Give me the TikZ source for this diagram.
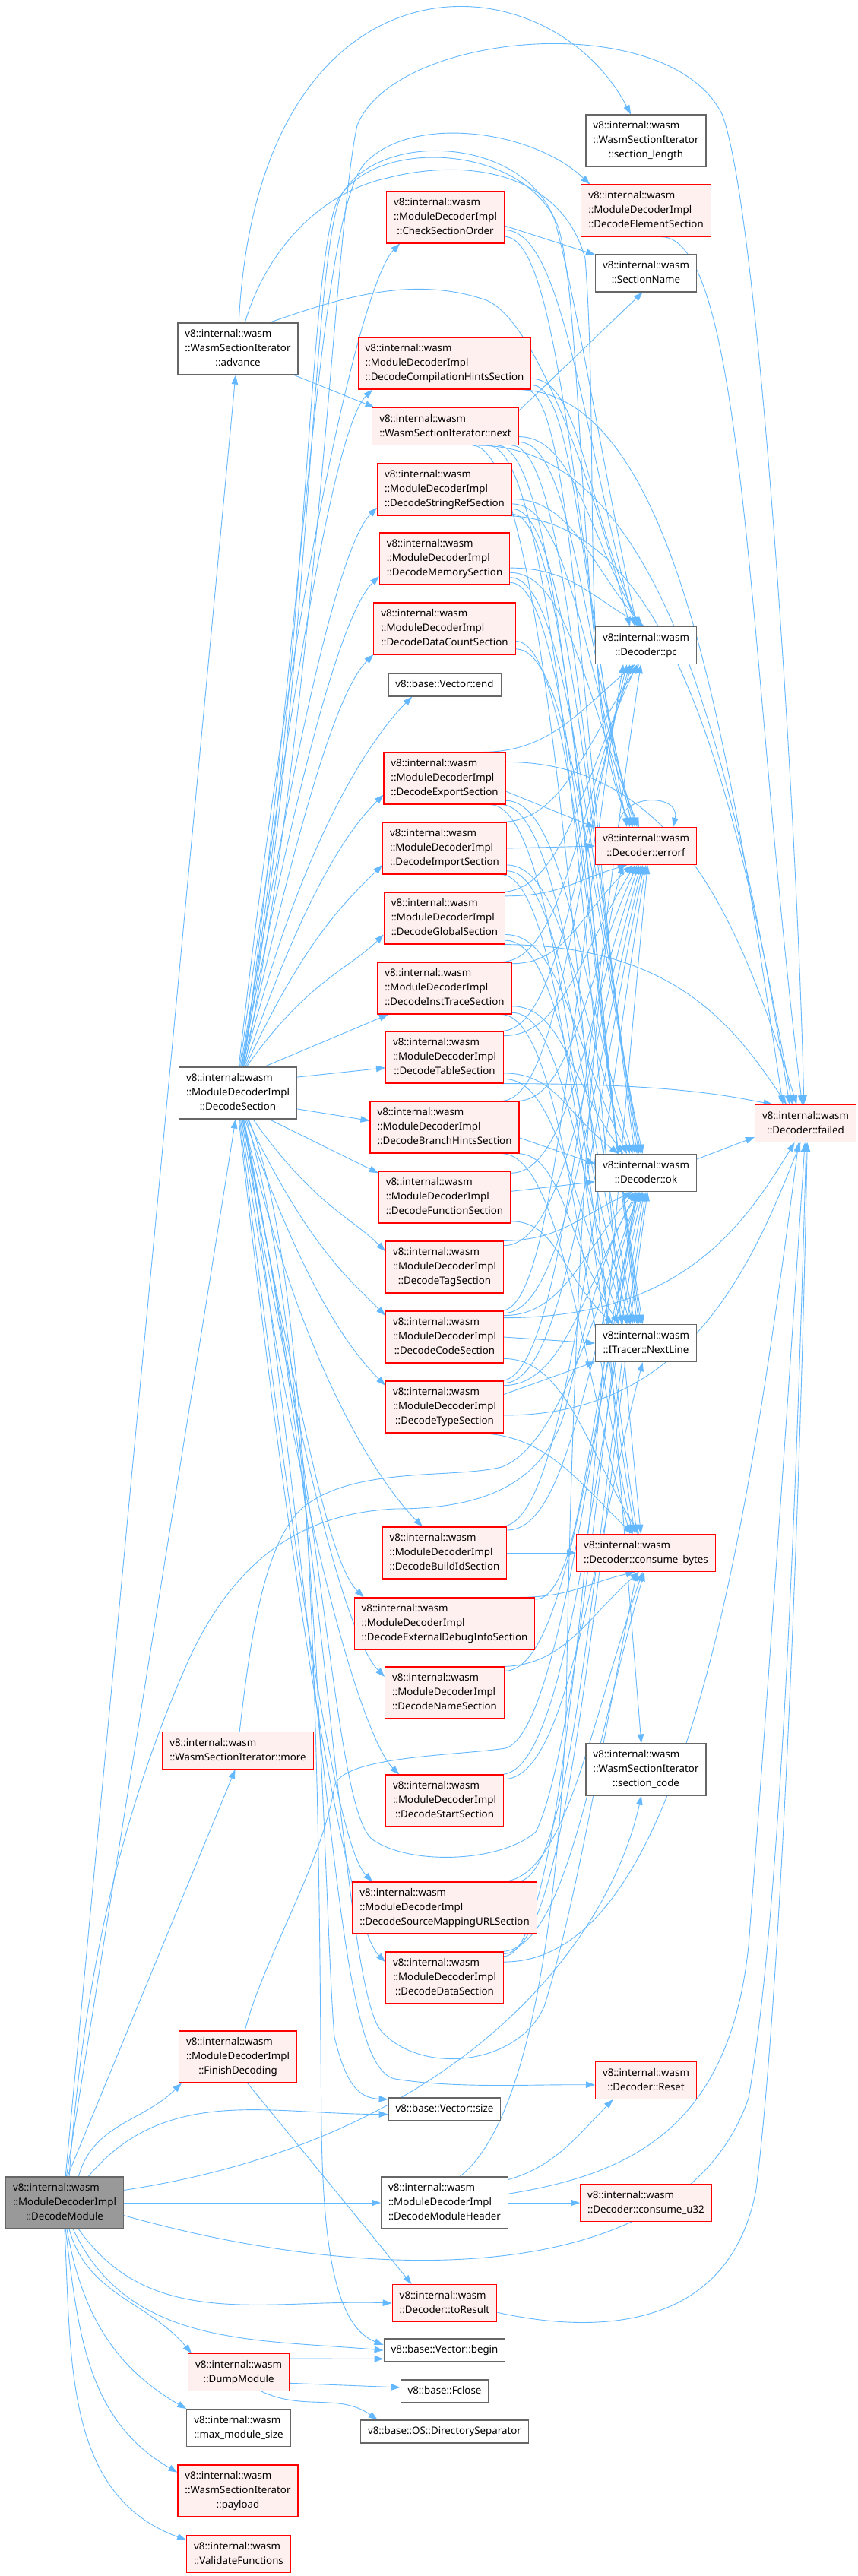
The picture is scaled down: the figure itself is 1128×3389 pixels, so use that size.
\documentclass[tikz,border=0pt]{standalone}
\usepackage{fontspec}
\setmainfont{Noto Sans}
\usetikzlibrary{arrows.meta,calc,backgrounds}
\definecolor{callblue}{HTML}{63B8FF}
\definecolor{boxline}{HTML}{666666}
\definecolor{boxred}{HTML}{FF0000}
\definecolor{boxpink}{HTML}{FFF0F0}
\definecolor{boxgray}{HTML}{999999}
\newcommand{\fnfont}{\fontsize{13.3}{19}\selectfont}
\newcommand{\fnt}[2]{\begin{tabular}{@{}l@{}}#1\\\multicolumn{1}{@{}c@{}}{#2}\end{tabular}}
\newcommand{\fno}[1]{\begin{tabular}{@{}l@{}}#1\end{tabular}}
\newcommand{\mdi}[1]{\fnt{v8::internal::wasm\\::ModuleDecoderImpl}{#1}}
\tikzset{
  fn/.style={rectangle,draw=boxline,fill=white,line width=1.1pt,
    inner xsep=9.5pt,inner ysep=5.5pt,font=\fnfont},
  fnred/.style={fn,draw=boxred,fill=boxpink},
  fnroot/.style={fn,fill=boxgray},
  call/.style={-{Triangle[length=12pt,width=8.5pt]},draw=callblue,line width=0.9pt},
  reach/.style={to path={.. controls ($(\tikztostart)!#1!(\tikztostart -| \tikztotarget)$)
      and ($(\tikztotarget)!0.5!(\tikztotarget |- \tikztostart)+(-70,0)$) .. (\tikztotarget)}},
  reach/.default=0.45,
  rise/.style={to path={.. controls ($(\tikztostart)!0.65!(\tikztostart |- \tikztotarget)+(80,0)$)
      and +(-45,45) .. (\tikztotarget)}},
  fall/.style={to path={.. controls ($(\tikztostart)!0.65!(\tikztostart |- \tikztotarget)+(80,0)$)
      and +(-45,-45) .. (\tikztotarget)}}
}
\begin{document}
\begin{tikzpicture}[x=1pt,y=-1pt]
  \useasboundingbox (0,0) rectangle (1128,3389);
  % caller
  \node[fnroot] (dm) at (85,2898) {\mdi{::DecodeModule}};
  % first column
  \node[fn] (adv) at (313,459) {\fnt{v8::internal::wasm\\::WasmSectionIterator}{::advance}};
  \node[fn] (dsec) at (313,1438) {\mdi{::DecodeSection}};
  \node[fnred] (more) at (313,2303) {\fnt{v8::internal::wasm}{::WasmSectionIterator::more}};
  \node[fnred] (fin) at (313,2706) {\mdi{::FinishDecoding}};
  \node[fnred] (dump) at (314,3121) {\fnt{v8::internal::wasm}{::DumpModule}};
  \node[fn] (maxsz) at (314,3194) {\fnt{v8::internal::wasm}{::max\_module\_size}};
  \node[fnred] (payload) at (313,3277) {\fnt{v8::internal::wasm\\::WasmSectionIterator}{::payload}};
  \node[fnred] (valfn) at (314,3360) {\fnt{v8::internal::wasm}{::ValidateFunctions}};
  % second column
  \node[fnred] (chkord) at (586,286) {\mdi{::CheckSectionOrder}};
  \node[fnred] (hintsec) at (585,478) {\mdi{::DecodeCompilationHintsSection}};
  \node[fnred] (next) at (586,561) {\fnt{v8::internal::wasm}{::WasmSectionIterator::next}};
  \node[fnred] (strsec) at (585,644) {\mdi{::DecodeStringRefSection}};
  \node[fnred] (memsec) at (585,735) {\mdi{::DecodeMemorySection}};
  \node[fnred] (dcsec) at (585,827) {\mdi{::DecodeDataCountSection}};
  \node[fn] (vend) at (585,901) {\fno{v8::base::Vector::end}};
  \node[fnred] (exsec) at (585,1024) {\mdi{::DecodeExportSection}};
  \node[fnred] (imsec) at (585,1116) {\mdi{::DecodeImportSection}};
  \node[fnred] (glsec) at (585,1208) {\mdi{::DecodeGlobalSection}};
  \node[fnred] (instsec) at (585,1300) {\mdi{::DecodeInstTraceSection}};
  \node[fnred] (tabsec) at (585,1391) {\mdi{::DecodeTableSection}};
  \node[fnred] (brsec) at (585,1483) {\mdi{::DecodeBranchHintsSection}};
  \node[fnred] (fnsec) at (585,1575) {\mdi{::DecodeFunctionSection}};
  \node[fnred] (tagsec) at (585,1667) {\mdi{::DecodeTagSection}};
  \node[fnred] (codesec) at (585,1759) {\mdi{::DecodeCodeSection}};
  \node[fnred] (tsec) at (585,1851) {\mdi{::DecodeTypeSection}};
  \node[fnred] (bidsec) at (585,2043) {\mdi{::DecodeBuildIdSection}};
  \node[fnred] (dbgsec) at (585,2136) {\mdi{::DecodeExternalDebugInfoSection}};
  \node[fnred] (namesec) at (585,2227) {\mdi{::DecodeNameSection}};
  \node[fnred] (stsec) at (585,2369) {\mdi{::DecodeStartSection}};
  \node[fnred] (srcsec) at (585,2510) {\mdi{::DecodeSourceMappingURLSection}};
  \node[fnred] (datsec) at (585,2602) {\mdi{::DecodeDataSection}};
  \node[fn] (vsize) at (585,2775) {\fno{v8::base::Vector::size}};
  \node[fn] (dmh) at (585,2898) {\mdi{::DecodeModuleHeader}};
  \node[fnred] (tores) at (585,3030) {\fnt{v8::internal::wasm}{::Decoder::toResult}};
  \node[fn] (vbegin) at (585,3092) {\fno{v8::base::Vector::begin}};
  \node[fn] (fclose) at (585,3146) {\fno{v8::base::Fclose}};
  \node[fn] (dirsep) at (585,3199) {\fno{v8::base::OS::DirectorySeparator}};
  % third column
  \node[fn] (seclen) at (850,185) {\fnt{v8::internal::wasm\\::WasmSectionIterator}{::section\_length}};
  \node[fnred] (elsec) at (850,277) {\mdi{::DecodeElementSection}};
  \node[fn] (secname) at (850,359.5) {\fnt{v8::internal::wasm}{::SectionName}};
  \node[fn] (pc) at (850,849) {\fnt{v8::internal::wasm}{::Decoder::pc}};
  \node[fnred] (errorf) at (850,1113) {\fnt{v8::internal::wasm}{::Decoder::errorf}};
  \node[fn] (ok) at (850,1543) {\fnt{v8::internal::wasm}{::Decoder::ok}};
  \node[fn] (nextline) at (850,1767) {\fnt{v8::internal::wasm}{::ITracer::NextLine}};
  \node[fnred] (cbytes) at (850,2043) {\fnt{v8::internal::wasm}{::Decoder::consume\_bytes}};
  \node[fn] (seccode) at (850,2328) {\fnt{v8::internal::wasm\\::WasmSectionIterator}{::section\_code}};
  \node[fnred] (reset) at (850,2737) {\fnt{v8::internal::wasm}{::Decoder::Reset}};
  \node[fnred] (cu32) at (850,2898) {\fnt{v8::internal::wasm}{::Decoder::consume\_u32}};
  \node[fnred] (failed) at (1060,1478) {\fnt{v8::internal::wasm}{::Decoder::failed}};

  \begin{scope}[on background layer]
    \fill[white] (0,0) rectangle (1128,3389);
    % calls of DecodeModule
    \draw[call] (dm.88) -- (adv.265);
    \draw[call] (dm.86) -- (dsec.265);
    \draw[call] (dm.84) -- (more.262);
    \draw[call] (dm.62) to[out=75,in=225] (fin.205);
    \draw[call] (dm.48) to[out=50,in=180] (vsize.185);
    \draw[call] (dm.east) -- (dmh.west);
    \draw[call] (dm.12) .. controls (600,2815) and (800,2560) .. (seccode.-100);
    \draw[call] (dm.-12) .. controls (500,3010) and (900,3010) .. (985,2760)
      .. controls (1030,2500) and (1050,1900) .. (failed.-88);
    \draw[call] (dm.-62) to[out=-55,in=178] (tores.west);
    \draw[call] (dm.-72) to[out=-65,in=175] (vbegin.west);
    \draw[call] (dm.-80) to[out=-75,in=130] (dump.158);
    \draw[call] (dm.-85) to[out=-80,in=150] (maxsz.160);
    \draw[call] (dm.-88) to[out=-83,in=150] (payload.163);
    \draw[call] (dm.-90) to[out=-87,in=160] (valfn.165);
    \draw[call] (dm.80) .. controls (110,2600) and (160,2380) .. (250,2180)
      .. controls (320,2030) and (420,1990) .. (520,1985)
      .. controls (640,1985) and (720,1950) .. (745,1850)
      .. controls (770,1740) and (800,1620) .. (ok.-102);
    % calls of the first column
    \draw[call] (adv.88) .. controls (340,-80) and (720,-60) .. (seclen.120);
    \draw[call] (adv.-25) -- (next.165);
    \draw[call] (adv.40) .. controls (440,395) and (540,360) .. (640,395)
      .. controls (700,420) and (770,600) .. (pc.130);
    \draw[call] (adv.75) .. controls (350,330) and (420,255) .. (506,235)
      .. controls (620,205) and (740,230) .. (770,340)
      .. controls (790,600) and (760,950) .. (errorf.125);
    \draw[call] (more.85) .. controls (330,2150) and (350,2010) .. (410,1975)
      .. controls (480,1930) and (600,1945) .. (660,1930)
      .. controls (740,1900) and (790,1700) .. (ok.-108);
    \draw[call] (fin.75) .. controls (345,2580) and (425,2450) .. (440,2350)
      .. controls (450,2310) and (600,2310) .. (665,2300)
      .. controls (740,2280) and (790,1800) .. (ok.-112);
    \draw[call] (fin.-70) -- (tores.150);
    \draw[call] (dump.15) -- (vbegin.188);
    \draw[call] (dump.-12) -- (fclose.175);
    \draw[call] (dump.-40) to[out=-25,in=145] (dirsep.170);
    % DecodeSection
    \foreach \a/\dst in {88/chkord.210,86/hintsec.200,84/strsec.195,82/memsec.195,
        80/dcsec.200,78/vend.200,76/exsec.195,74/imsec.195,72/glsec.195}
      \draw[call] (dsec.\a) to[rise] (\dst);
    \draw[call] (dsec.45) -- (instsec.205);
    \draw[call] (dsec.15) -- (tabsec.190);
    \draw[call] (dsec.-15) -- (brsec.175);
    \draw[call] (dsec.-40) -- (fnsec.160);
    \foreach \a/\dst in {-60/tagsec.165,-70/codesec.160,-75/tsec.160,-78/bidsec.130,
        -80/dbgsec.162,-82/namesec.165,-84/stsec.150,-86/srcsec.160,-88/datsec.165}
      \draw[call] (dsec.\a) to[fall] (\dst);
    \draw[call] (dsec.-72) .. controls (420,1800) and (425,2500) .. (440,2680)
      .. controls (455,2740) and (470,2760) .. (vsize.170);
    \draw[call] (dsec.-68) .. controls (425,1700) and (420,2600) .. (423,2800)
      .. controls (425,2950) and (440,3060) .. (vbegin.175);
    \draw[call] (dsec.78) .. controls (400,800) and (420,280) .. (480,215)
      .. controls (540,150) and (700,170) .. ($(elsec.north west)+(12,0)$);
    \draw[call] (dsec.76) .. controls (420,900) and (440,300) .. (470,165)
      .. controls (520,40) and (880,10) .. (950,150)
      .. controls (1000,280) and (1050,1100) .. (failed.95);
    \draw[call] (dsec.80) .. controls (410,900) and (410,330) .. (450,255)
      .. controls (500,170) and (690,180) .. (730,290)
      .. controls (760,400) and (800,650) .. (pc.115);
    \draw[call] (dsec.82) .. controls (405,900) and (405,340) .. (445,262)
      .. controls (495,178) and (695,190) .. (735,300)
      .. controls (770,420) and (760,900) .. (errorf.130);
    \draw[call] (dsec.-78) .. controls (430,2000) and (450,2600) .. (500,2670)
      .. controls (550,2730) and (680,2720) .. (716,2640)
      .. controls (760,2500) and (800,2250) .. (cbytes.-115);
    \draw[call] (dsec.-76) .. controls (440,2300) and (440,2720) .. (520,2735)
      .. controls (600,2748) and (700,2742) .. (reset.185);
    \draw[call] (dsec.-80) .. controls (430,2000) and (440,2380) .. (490,2420)
      .. controls (540,2455) and (660,2450) .. (705,2410)
      .. controls (760,2300) and (800,1800) .. (ok.-118);
    % second column into the third
    \draw[call] (chkord.-8) -- (secname.160);
    \draw[call] (next.12) -- (secname.-100);
    \draw[call] (exsec.-12) -- (errorf.160);
    \draw[call] (imsec.east) -- (errorf.west);
    \draw[call] (brsec.-8) -- (ok.170);
    \draw[call] (fnsec.5) -- (ok.190);
    \draw[call] (codesec.east) -- (nextline.west);
    \draw[call] (tsec.12) -- (nextline.200);
    \draw[call] (bidsec.east) -- (cbytes.west);
    \draw[call] (dmh.east) -- (cu32.west);
    \foreach \src/\dst in {chkord.-12/pc.120,chkord.-18/errorf.135,
        hintsec.-10/pc.110,hintsec.-14/errorf.125,hintsec.-18/ok.120,
        next.-8/pc.105,next.-12/errorf.120,next.-16/ok.115,next.-20/nextline.115,
        next.-24/cbytes.105,next.-35/seccode.100,
        strsec.-8/pc.100,strsec.-12/errorf.115,strsec.-16/ok.110,strsec.-20/nextline.110,
        memsec.-8/pc.95,memsec.-12/errorf.110,memsec.-16/ok.105,memsec.-20/nextline.105,
        dcsec.-10/nextline.100,dcsec.-16/ok.100,
        exsec.-20/ok.125,exsec.-25/nextline.120,exsec.-30/cbytes.115,
        imsec.-15/ok.130,imsec.-20/nextline.125,imsec.-25/cbytes.120,
        glsec.-15/ok.135,glsec.-20/nextline.130,
        instsec.-15/ok.140,instsec.-20/nextline.135,instsec.-25/cbytes.125,
        tabsec.-15/ok.145,tabsec.-20/nextline.140,
        brsec.-20/nextline.145,brsec.-25/cbytes.130,
        fnsec.-20/nextline.150,codesec.-20/cbytes.110,tsec.-40/cbytes.125,
        exsec.35/pc.-120,imsec.25/pc.-110,glsec.25/pc.-115,glsec.20/errorf.-135,
        instsec.25/pc.-125,instsec.20/errorf.-125,tabsec.25/pc.-130,tabsec.20/errorf.-120,
        brsec.25/pc.-135,brsec.20/errorf.-115,fnsec.20/errorf.-110,
        tagsec.25/ok.-125,tagsec.20/errorf.-105,
        codesec.25/pc.-140,codesec.22/errorf.-100,codesec.20/ok.-120,
        tsec.25/pc.-105,tsec.22/errorf.-95,tsec.20/ok.-115,
        bidsec.20/ok.-110,bidsec.25/errorf.-90,dbgsec.20/cbytes.-120,dbgsec.15/ok.-105,
        namesec.25/cbytes.-110,namesec.20/ok.-100,stsec.25/ok.-95,stsec.20/nextline.-100,
        srcsec.25/cbytes.-100,srcsec.20/ok.-90,
        datsec.25/cbytes.-95,datsec.22/ok.-85,datsec.20/errorf.-85}
      \draw[call] (\src) to[reach] (\dst);
    \foreach \src/\dst in {hintsec.-20/failed.140,next.-30/failed.130,strsec.-24/failed.125,
        exsec.15/failed.115,glsec.-25/failed.135,tabsec.-25/failed.150,
        codesec.18/failed.-120,tsec.-8/failed.-105,datsec.15/failed.-110,
        elsec.-60/failed.100}
      \draw[call] (\src) to[reach=0.6] (\dst);
    % DecodeModuleHeader, toResult and the decoder
    \draw[call] (dmh.20) .. controls (730,2850) and (760,2810) .. (reset.-150);
    \draw[call] (dmh.8) .. controls (830,2860) and (960,2800) .. (985,2560)
      .. controls (1005,2300) and (1040,1800) .. (failed.-92);
    \draw[call] (dmh.60) .. controls (700,2790) and (735,2500) .. (745,2250)
      .. controls (750,1900) and (770,1300) .. (errorf.-140);
    \draw[call] (tores.-10) .. controls (780,3070) and (960,3070) .. (995,2880)
      .. controls (1030,2600) and (1055,1900) .. (failed.-85);
    \draw[call] (ok.15) -- (failed.195);
    \draw[call] (errorf.145) .. controls +(0,-45) and +(10,-45) .. (errorf.35);
  \end{scope}
\end{tikzpicture}
\end{document}
